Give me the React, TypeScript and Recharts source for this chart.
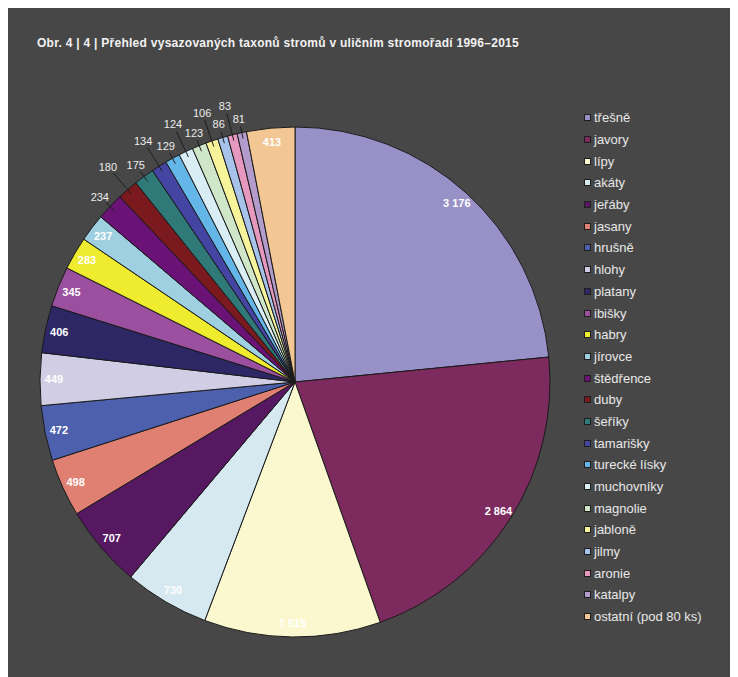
import { PieChart, Pie, Cell, Legend } from "recharts";

const taxa = [
  "třešně",
  "javory",
  "lípy",
  "akáty",
  "jeřáby",
  "jasany",
  "hrušně",
  "hlohy",
  "platany",
  "ibišky",
  "habry",
  "jírovce",
  "štědřence",
  "duby",
  "šeříky",
  "tamarišky",
  "turecké lísky",
  "muchovníky",
  "magnolie",
  "jabloně",
  "jilmy",
  "aronie",
  "katalpy",
  "ostatní (pod 80 ks)",
];

// počty vysazených stromů (lípy a akáty odhadnuty, popisky nečitelné)
const counts = [
  3176, 2864, 1515, 730, 707, 498, 472, 449, 406, 345, 283, 237, 234, 180, 175,
  134, 129, 124, 123, 106, 86, 83, 81, 413,
];

const sliceColors = [
  "#9891c7",
  "#7d2a5f",
  "#fbf8cf",
  "#d6e9f1",
  "#571862",
  "#df8073",
  "#4d60ad",
  "#d1cde5",
  "#2d2766",
  "#9a4f9f",
  "#efeb2e",
  "#9fd0e1",
  "#6b1277",
  "#7a1a1f",
  "#2f7a78",
  "#4444a2",
  "#63b6e7",
  "#d9edf4",
  "#d0e6c9",
  "#f7f39b",
  "#a7c3ea",
  "#e698bf",
  "#b39bcb",
  "#f3c794",
];

const data = taxa.map((name, i) => ({ name, value: counts[i] }));

const RADIAN = Math.PI / 180;

const fmt = (v: number) =>
  v >= 1000 ? `${Math.floor(v / 1000)} ${String(v % 1000).padStart(3, "0")}` : String(v);

const renderLabel = (props: any) => {
  const { cx, cy, midAngle, outerRadius, value, index } = props;
  const cos = Math.cos(-midAngle * RADIAN);
  const sin = Math.sin(-midAngle * RADIAN);
  if (index < 12 || index === 23) {
    const r = outerRadius - 14;
    return (
      <text
        x={cx + r * cos}
        y={cy + r * sin}
        fill="#ffffff"
        fontSize={11}
        fontWeight="bold"
        fontFamily="Liberation Sans, Arial, sans-serif"
        textAnchor="middle"
        dominantBaseline="central"
      >
        {fmt(value)}
      </text>
    );
  }
  const r = index % 2 === 0 ? outerRadius + 14 : outerRadius + 30;
  return (
    <g>
      <line
        x1={cx + (outerRadius - 6) * cos}
        y1={cy + (outerRadius - 6) * sin}
        x2={cx + (r - 8) * cos}
        y2={cy + (r - 8) * sin}
        stroke="#1c1c1c"
        strokeWidth={1}
      />
      <text
        x={cx + r * cos}
        y={cy + r * sin}
        fill="#ececec"
        fontSize={11}
        fontFamily="Liberation Sans, Arial, sans-serif"
        textAnchor="middle"
        dominantBaseline="central"
      >
        {fmt(value)}
      </text>
    </g>
  );
};

const renderLegend = () => (
  <div>
    {taxa.map((name, i) => (
      <div
        key={name}
        style={{ display: "flex", alignItems: "center", height: 21.7 }}
      >
        <span
          style={{
            width: 5,
            height: 5,
            border: "1px solid #1e1e1e",
            background: sliceColors[i],
            marginRight: 3,
          }}
        />
        <span>{name}</span>
      </div>
    ))}
  </div>
);

export default function App() {
  return (
    <div
      style={{
        position: "relative",
        width: 730,
        height: 669,
        background: "#474747",
        fontFamily: "Liberation Sans, Arial, sans-serif",
      }}
    >
      <div
        style={{
          position: "absolute",
          left: 29,
          top: 28,
          color: "#f2f2f2",
          fontSize: 12,
          letterSpacing: 0.27,
          fontWeight: "bold",
          whiteSpace: "nowrap",
        }}
      >
        Obr. 4 | 4 | Přehled vysazovaných taxonů stromů v uličním stromořadí 1996–2015
      </div>
      <PieChart
        width={730}
        height={669}
        margin={{ top: 0, right: 0, bottom: 0, left: 0 }}
      >
        <Pie
          data={data}
          dataKey="value"
          nameKey="name"
          cx={287}
          cy={374}
          outerRadius={255}
          startAngle={90}
          endAngle={-270}
          stroke="#1a1a1a"
          strokeWidth={1}
          label={renderLabel}
          labelLine={false}
          isAnimationActive={false}
        >
          {data.map((d, i) => (
            <Cell key={d.name} fill={sliceColors[i]} />
          ))}
        </Pie>
        <Legend
          content={renderLegend}
          wrapperStyle={{
            left: 576,
            top: 99,
            width: 150,
            fontSize: 13,
            color: "#e8e8e8",
          }}
        />
      </PieChart>
    </div>
  );
}
